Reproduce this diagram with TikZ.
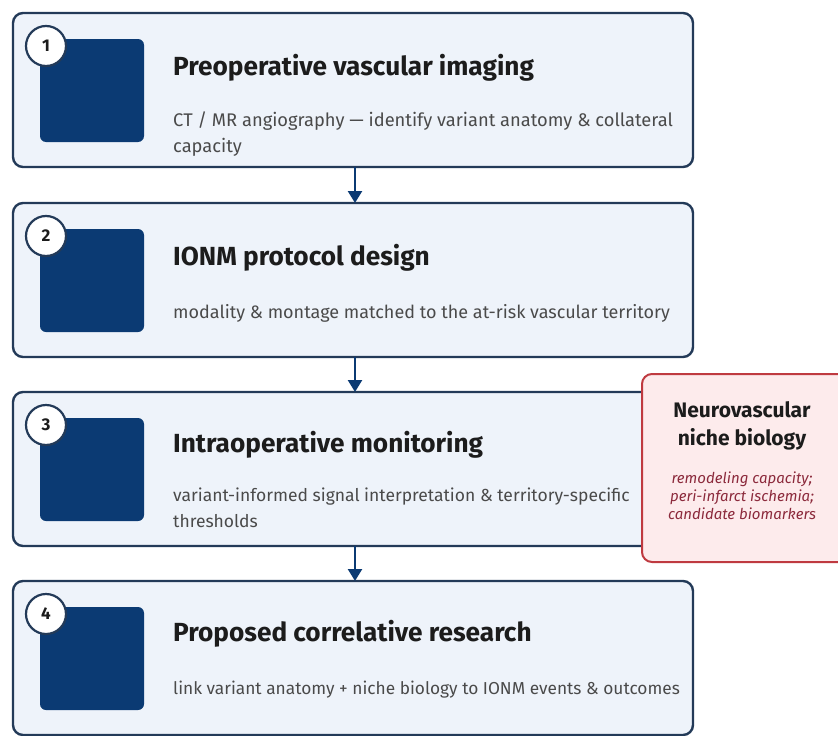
\documentclass[tikz,border=0pt]{standalone}
\usepackage{fontspec}
\setmainfont{Fira Sans}
\usetikzlibrary{arrows.meta}
\definecolor{navy}{HTML}{0B3A73}
\definecolor{boxfill}{HTML}{EEF3FA}
\definecolor{boxline}{HTML}{233A58}
\definecolor{titlec}{HTML}{1C1C1C}
\definecolor{subc}{HTML}{4A4A4A}
\definecolor{pinkfill}{HTML}{FDEBEC}
\definecolor{redline}{HTML}{BF3A40}
\definecolor{redtext}{HTML}{8C2A3C}
\tikzset{
  stepbox/.style={draw=boxline, line width=2.4pt, fill=boxfill, rounded corners=10pt},
  iconsq/.style={fill=navy, rounded corners=6pt},
  numcirc/.style={circle, draw=boxline, line width=2.2pt, fill=white, minimum size=40pt, inner sep=0pt, font=\fontsize{17}{17}\selectfont\bfseries, text=titlec},
  ttl/.style={anchor=base west, inner sep=0pt, font=\fontsize{26.2}{30}\selectfont\bfseries, text=titlec},
  sub/.style={anchor=base west, inner sep=0pt, align=left, font=\fontsize{#1}{26}\selectfont, text=subc},
  flow/.style={draw=navy, line width=2.4pt, -{Triangle[length=12pt,width=14pt]}},
  nichebox/.style={draw=redline, line width=2pt, fill=pinkfill, rounded corners=10pt},
}
\begin{document}
\begin{tikzpicture}[x=1pt,y=-1pt]
\useasboundingbox (0,0) rectangle (838,736);
% step boxes
\foreach \t/\n in {13/1,203/2,392/3,581/4}{
  \path[stepbox] (13,\t) rectangle (693,\t+154);
  \path[iconsq] (40,\t+26) rectangle (144,\t+129);
  \node[numcirc] at (46,\t+33) {\n};
}
\node[ttl] (t1) at (173,75) {Preoperative vascular imaging};
\node[sub=18.3] (s1) at (173,152) {CT / MR angiography — identify variant anatomy \& collateral\\capacity};
\node[ttl] (t2) at (173,265) {IONM protocol design};
\node[sub=18] (s2) at (173,318) {modality \& montage matched to the at-risk vascular territory};
\node[ttl] (t3) at (173,452) {Intraoperative monitoring};
\node[sub=17.5] (s3) at (173,527) {variant-informed signal interpretation \& territory-specific\\thresholds};
\node[ttl] (t4) at (173,641) {Proposed correlative research};
\node[sub=17.3] (s4) at (173,694) {link variant anatomy + niche biology to IONM events \& outcomes};
% connectors
\coordinate (b1) at (355,167); \coordinate (a2) at (355,203);
\coordinate (b2) at (355,357); \coordinate (a3) at (355,392);
\coordinate (b3) at (355,546); \coordinate (a4) at (355,581);
\draw[flow] (b1) -- (a2);
\draw[flow] (b2) -- (a3);
\draw[flow] (b3) -- (a4);
% niche box
\path[nichebox] (642,374) rectangle (850,562);
\node[anchor=base, inner sep=0pt, align=center, font=\fontsize{21}{28}\selectfont\bfseries, text=titlec] (nt) at (742,445) {Neurovascular\\niche biology};
\node[anchor=base, inner sep=0pt, align=center, font=\fontsize{15}{18}\selectfont\itshape, text=redtext] (ns) at (742,519) {remodeling capacity;\\peri-infarct ischemia;\\candidate biomarkers};
\end{tikzpicture}
\end{document}
